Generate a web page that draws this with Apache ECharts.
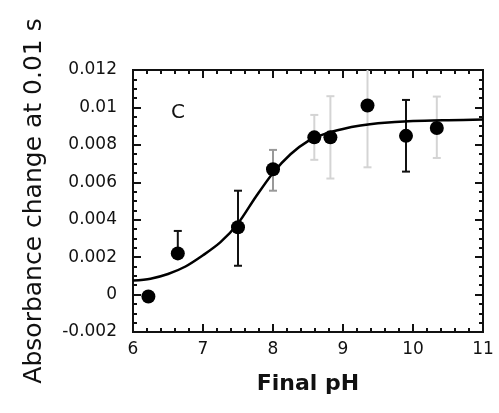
<!DOCTYPE html>
<html>
<head>
<meta charset="utf-8">
<script src="https://cdn.jsdelivr.net/npm/echarts@6/dist/echarts.min.js"></script>
<style>html,body{margin:0;padding:0;background:#fff;}#c{width:499px;height:413px;}</style>
</head>
<body>
<div id="c"></div>
<script>
// measured points
const pointsPH = [6.22, 6.64, 7.50, 8.00, 8.59, 8.82, 9.35, 9.90, 10.34];
const pointsAbs = [-0.0001, 0.0022, 0.0036, 0.0067, 0.0084, 0.0084, 0.0101, 0.00848, 0.0089];
const errLow  = [null, 0.0022, 0.00154, 0.00555, 0.0072, 0.0062, 0.0068, 0.00657, 0.0073];
const errHigh = [null, 0.0034, 0.00555, 0.00773, 0.0096, 0.0106, 0.0134, 0.0104, 0.01058];
// fitted curve
const curvePH  = [6.0, 6.25, 6.5, 6.75, 7.0, 7.25, 7.5, 7.75, 8.0, 8.25, 8.5, 8.75, 9.0, 9.25, 9.5, 10.0, 10.5, 11.0];
const curveAbs = [0.00075, 0.00085, 0.0011, 0.0015, 0.0021, 0.0028, 0.0038, 0.0052, 0.0065, 0.0075, 0.0082, 0.0086, 0.00885, 0.00903, 0.00915, 0.00927, 0.00932, 0.00935];
const xTicks = [6, 7, 8, 9, 10, 11];
const yTicks = [-0.002, 0, 0.002, 0.004, 0.006, 0.008, 0.01, 0.012];

const lightBars = [4, 5, 6, 8];
const midBars = [3];

const chart = echarts.init(document.getElementById('c'));
const font = 'DejaVu Sans';
const ink = '#111';

function errSeries(indices, color) {
  const data = indices.filter(i => errLow[i] != null).map(i => [pointsPH[i], errLow[i], errHigh[i]]);
  return {
    type: 'custom', xAxisIndex: 0, yAxisIndex: 0, clip: true, z: 2,
    data: data,
    encode: {x: 0, y: [1, 2]},
    renderItem: function (params, api) {
      const x = api.value(0);
      const lo = api.coord([x, api.value(1)]);
      const hi = api.coord([x, api.value(2)]);
      const w = 4;
      const st = {stroke: color, lineWidth: 2};
      return {type: 'group', children: [
        {type: 'line', shape: {x1: lo[0], y1: lo[1], x2: hi[0], y2: hi[1]}, style: st},
        {type: 'line', shape: {x1: lo[0] - w, y1: lo[1], x2: lo[0] + w, y2: lo[1]}, style: st},
        {type: 'line', shape: {x1: hi[0] - w, y1: hi[1], x2: hi[0] + w, y2: hi[1]}, style: st}
      ]};
    }
  };
}

const allIdx = pointsPH.map((_, i) => i);
const darkIdx = allIdx.filter(i => lightBars.indexOf(i) < 0 && midBars.indexOf(i) < 0);

function xAx(pos, interval, len, extra) {
  return Object.assign({
    type: 'value', position: pos, min: 6, max: 11, interval: interval,
    axisLine: {show: true, onZero: false, lineStyle: {color: ink, width: 2}},
    axisTick: {show: true, inside: true, length: len, lineStyle: {color: ink, width: 2}},
    axisLabel: {show: false},
    splitLine: {show: false}
  }, extra || {});
}
function yAx(pos, interval, len, extra) {
  return Object.assign({
    type: 'value', position: pos, min: -0.002, max: 0.012, interval: interval,
    axisLine: {show: true, onZero: false, lineStyle: {color: ink, width: 2}},
    axisTick: {show: true, inside: true, length: len, lineStyle: {color: ink, width: 2}},
    axisLabel: {show: false},
    splitLine: {show: false}
  }, extra || {});
}

chart.setOption({
  animation: false,
  backgroundColor: '#fff',
  grid: {left: 133, right: 16, top: 70, bottom: 81, containLabel: false},
  xAxis: [
    xAx('bottom', 1, 8, {
      name: 'Final pH', nameLocation: 'middle', nameGap: 41,
      nameTextStyle: {fontFamily: font, fontWeight: 'bold', fontSize: 22, color: ink},
      axisLabel: {show: true, margin: 9, fontFamily: font, fontSize: 17, color: ink,
        formatter: v => xTicks.indexOf(v) >= 0 ? String(v) : ''}
    }),
    xAx('bottom', 0.2, 4),
    xAx('top', 1, 8),
    xAx('top', 0.2, 4)
  ],
  yAxis: [
    yAx('left', 0.002, 8, {
      name: 'Absorbance change at 0.01 s', nameLocation: 'middle', nameGap: 86,
      nameTextStyle: {fontFamily: font, fontSize: 25, color: ink},
      axisLabel: {show: true, margin: 16, fontFamily: font, fontSize: 17, color: ink,
        formatter: v => {
          const t = yTicks.find(k => Math.abs(k - v) < 1e-9);
          return t === undefined ? '' : String(t);
        }}
    }),
    yAx('left', 0.0005, 4),
    yAx('right', 0.002, 8),
    yAx('right', 0.0005, 4)
  ],
  graphic: [{type: 'text', left: 171, top: 103, style: {text: 'C', fontFamily: font, fontSize: 20, fill: ink}}],
  series: [
    errSeries(lightBars, '#d4d4d4'),
    errSeries(midBars, '#999999'),
    errSeries(darkIdx, '#111111'),
    {
      type: 'line', smooth: 0.3, showSymbol: false, z: 3,
      data: curvePH.map((x, i) => [x, curveAbs[i]]),
      lineStyle: {color: '#000', width: 2.5}
    },
    {
      type: 'scatter', z: 4, symbol: 'circle', symbolSize: 14,
      data: pointsPH.map((x, i) => [x, pointsAbs[i]]),
      itemStyle: {color: '#000', opacity: 1}
    }
  ]
});
</script>
</body>
</html>
